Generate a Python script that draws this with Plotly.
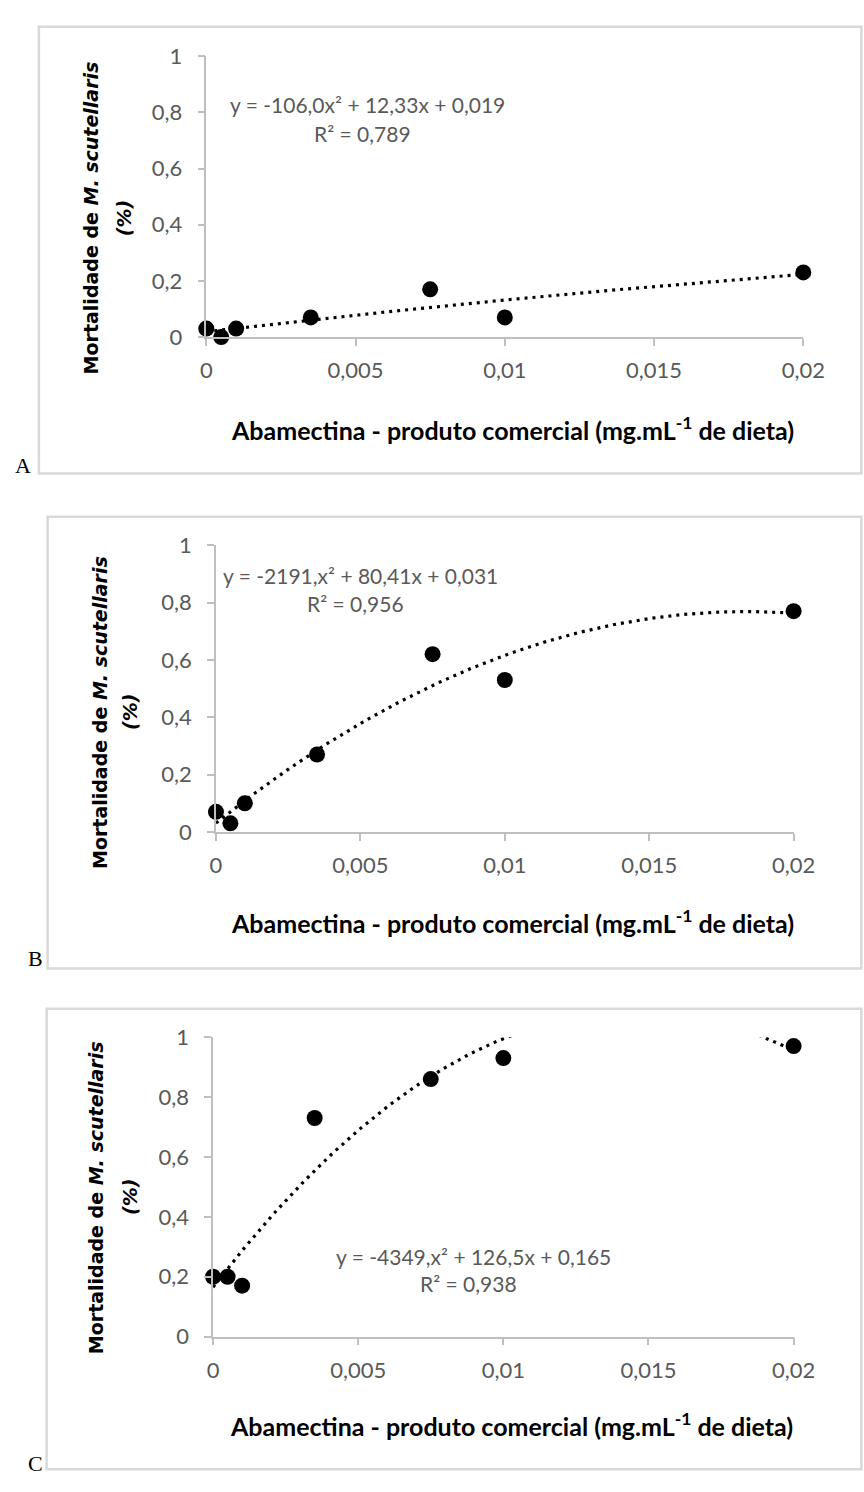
import numpy as np
import plotly.graph_objects as go

W, H = 864, 1492

# ---------------- data ----------------
conc = [0, 0.0005, 0.001, 0.0035, 0.0075, 0.01, 0.02]
mort_A = [0.03, 0.00, 0.03, 0.07, 0.17, 0.07, 0.23]
mort_B = [0.07, 0.03, 0.10, 0.27, 0.62, 0.53, 0.77]
mort_C = [0.20, 0.20, 0.17, 0.73, 0.86, 0.93, 0.97]

coef_A = [-106.0, 12.33, 0.019]
coef_B = [-2191.0, 80.41, 0.031]
coef_C = [-4349.0, 126.5, 0.165]

eq_A = ["y = -106,0x² + 12,33x + 0,019", "R² = 0,789"]
eq_B = ["y = -2191,x² + 80,41x + 0,031", "R² = 0,956"]
eq_C = ["y = -4349,x² + 126,5x + 0,165", "R² = 0,938"]

x_tickvals = [0, 0.005, 0.01, 0.015, 0.02]
x_ticktext = ["0", "0,005", "0,01", "0,015", "0,02"]
y_tickvals = [0, 0.2, 0.4, 0.6, 0.8, 1]
y_ticktext = ["0", "0,2", "0,4", "0,6", "0,8", "1"]

panel_letters = ["A", "B", "C"]
x_title = "Abamectina - produto comercial (mg.mL<sup>-1</sup> de dieta)"
y_title_1 = "Mortalidade de <i>M. scutellaris</i>"
y_title_2 = "(%)"

# ---------------- layout geometry (pixels) ----------------
panels = [
    dict(mort=mort_A, coef=coef_A, eq=eq_A,
         px=(207, 824), py=(329, 43), box=(34, 13, 468),
         eq_pos=(229, 92), r2_pos=(368, 122),
         ytitle=(88, 122, 208), xtitle_y=422, letter=(18, 460)),
    dict(mort=mort_B, coef=coef_B, eq=eq_B,
         px=(217, 814), py=(833, 541), box=(43, 512, 972),
         eq_pos=(222, 572), r2_pos=(361, 600),
         ytitle=(97, 128, 711), xtitle_y=924, letter=(30, 962)),
    dict(mort=mort_C, coef=coef_C, eq=eq_C,
         px=(214, 814), py=(1347, 1042), box=(42, 1013, 1482),
         eq_pos=(339, 1265), r2_pos=(478, 1293),
         ytitle=(93, 128, 1205), xtitle_y=1437, letter=(30, 1476)),
]

def fx(p):
    return p / W

def fy(p):
    return 1 - p / H

TICK_FONT = dict(family="Lato, Open Sans, sans-serif", size=22, color="#595959")
EQ_FONT = dict(family="Lato, Open Sans, sans-serif", size=21, color="#595959")
AXIS_COLOR = "#BFBFBF"

fig = go.Figure()
annotations = []
shapes = []

xfit = np.linspace(0, 0.02, 401)

for i, p in enumerate(panels):
    n = "" if i == 0 else str(i + 1)
    xa, ya = "x" + n, "y" + n

    # trend line (dotted, clipped at axis range)
    yfit = np.polyval(p["coef"], xfit)
    fig.add_trace(go.Scatter(
        x=xfit, y=yfit, mode="lines", xaxis=xa, yaxis=ya,
        line=dict(color="black", width=3.2, dash="3px,5px"),
        hoverinfo="skip", showlegend=False))
    # data points
    fig.add_trace(go.Scatter(
        x=conc, y=p["mort"], mode="markers", xaxis=xa, yaxis=ya,
        marker=dict(color="black", size=16),
        cliponaxis=False, showlegend=False))

    fig.update_layout(**{
        "xaxis" + n: dict(
            domain=[fx(p["px"][0]), fx(p["px"][1])], anchor=ya,
            range=[0, 0.02], tickvals=x_tickvals, ticktext=x_ticktext,
            showgrid=False, zeroline=False, showline=True,
            linecolor=AXIS_COLOR, linewidth=1.5,
            ticks="outside", ticklen=7, tickwidth=1.5, tickcolor=AXIS_COLOR,
            tickfont=TICK_FONT, ticklabelstandoff=6),
        "yaxis" + n: dict(
            domain=[fy(p["py"][0]), fy(p["py"][1])], anchor=xa,
            range=[0, 1], tickvals=y_tickvals, ticktext=y_ticktext,
            showgrid=False, zeroline=False, showline=True,
            linecolor=AXIS_COLOR, linewidth=1.5,
            ticks="outside", ticklen=7, tickwidth=1.5, tickcolor=AXIS_COLOR,
            tickfont=TICK_FONT, ticklabelstandoff=11),
    })

    # panel frame
    bx, by0, by1 = p["box"]
    shapes.append(dict(type="rect", xref="paper", yref="paper",
                       x0=fx(bx), x1=fx(W + 20), y0=fy(by1), y1=fy(by0),
                       line=dict(color="#D9D9D9", width=2.5), layer="below"))

    # equation text
    annotations.append(dict(
        text=p["eq"][0], xref="paper", yref="paper",
        x=fx(p["eq_pos"][0]), y=fy(p["eq_pos"][1]),
        xanchor="left", yanchor="middle", showarrow=False, font=EQ_FONT))
    annotations.append(dict(
        text=p["eq"][1], xref="paper", yref="paper",
        x=fx(p["r2_pos"][0]), y=fy(p["r2_pos"][1]),
        xanchor="center", yanchor="middle", showarrow=False, font=EQ_FONT))

    # x-axis title
    annotations.append(dict(
        text=x_title, xref="paper", yref="paper",
        x=fx((p["px"][0] + p["px"][1]) / 2 + 8), y=fy(p["xtitle_y"]),
        xanchor="center", yanchor="middle", showarrow=False,
        font=dict(family="Lato, Open Sans, sans-serif", size=25, color="black",
                  weight="bold")))

    # y-axis title (two lines)
    yt1, yt2, ytc = p["ytitle"]
    annotations.append(dict(
        text=y_title_1, xref="paper", yref="paper",
        x=fx(yt1), y=fy(ytc), textangle=-90,
        xanchor="center", yanchor="middle", showarrow=False,
        font=dict(family="DejaVu Sans, Verdana, sans-serif", size=19,
                  color="black", weight="bold")))
    annotations.append(dict(
        text=y_title_2, xref="paper", yref="paper",
        x=fx(yt2), y=fy(ytc), textangle=-90,
        xanchor="center", yanchor="middle", showarrow=False,
        font=dict(family="DejaVu Sans, Verdana, sans-serif", size=19,
                  color="black", weight="bold", style="italic")))

    # panel letter
    annotations.append(dict(
        text=panel_letters[i], xref="paper", yref="paper",
        x=fx(p["letter"][0]), y=fy(p["letter"][1]),
        xanchor="center", yanchor="middle", showarrow=False,
        font=dict(family="Liberation Serif, Times New Roman, serif", size=22,
                  color="black")))

fig.update_layout(
    width=W, height=H,
    margin=dict(l=0, r=0, t=0, b=0),
    paper_bgcolor="white", plot_bgcolor="white",
    showlegend=False,
    shapes=shapes, annotations=annotations,
)

fig.write_html("out.html")
